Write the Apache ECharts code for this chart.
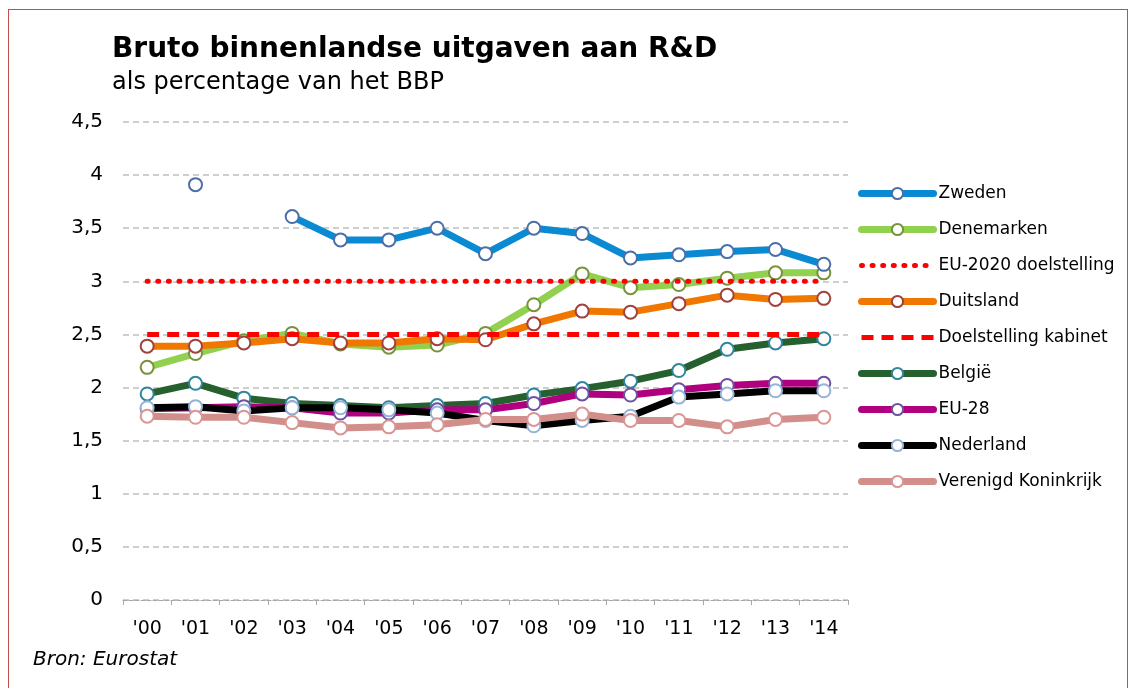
<!DOCTYPE html>
<html>
<head>
<meta charset="utf-8">
<script src="https://cdn.jsdelivr.net/npm/echarts@6/dist/echarts.min.js"></script>
<style>
html,body{margin:0;padding:0;background:#fff;}
#frame{position:absolute;left:8px;top:9px;width:1120px;height:700px;border:1px solid #c0504d;box-sizing:border-box;}
#chart{position:absolute;left:0;top:0;width:1133px;height:688px;}
</style>
</head>
<body>
<div id="frame"></div>
<div id="chart"></div>
<script>
const years = ["'00","'01","'02","'03","'04","'05","'06","'07","'08","'09","'10","'11","'12","'13","'14"];
const zweden = [null, 3.91, null, 3.61, 3.39, 3.39, 3.50, 3.26, 3.50, 3.45, 3.22, 3.25, 3.28, 3.30, 3.16];
const denemarken = [2.19, 2.32, 2.44, 2.51, 2.41, 2.38, 2.40, 2.51, 2.78, 3.07, 2.94, 2.97, 3.03, 3.08, 3.08];
const eu2020 = [3, 3, 3, 3, 3, 3, 3, 3, 3, 3, 3, 3, 3, 3, 3];
const duitsland = [2.39, 2.39, 2.42, 2.46, 2.42, 2.42, 2.46, 2.45, 2.60, 2.72, 2.71, 2.79, 2.87, 2.83, 2.84];
const kabinet = [2.5, 2.5, 2.5, 2.5, 2.5, 2.5, 2.5, 2.5, 2.5, 2.5, 2.5, 2.5, 2.5, 2.5, 2.5];
const belgie = [1.94, 2.04, 1.90, 1.85, 1.83, 1.81, 1.83, 1.85, 1.93, 1.99, 2.06, 2.16, 2.36, 2.42, 2.46];
const eu28 = [1.80, 1.81, 1.82, 1.81, 1.76, 1.76, 1.79, 1.79, 1.85, 1.94, 1.93, 1.98, 2.02, 2.04, 2.04];
const nederland = [1.81, 1.82, 1.78, 1.81, 1.81, 1.79, 1.76, 1.69, 1.64, 1.69, 1.73, 1.91, 1.94, 1.97, 1.97];
const vk = [1.73, 1.72, 1.72, 1.67, 1.62, 1.63, 1.65, 1.70, 1.70, 1.75, 1.69, 1.69, 1.63, 1.70, 1.72];
const yTicks = ['0','0,5','1','1,5','2','2,5','3','3,5','4','4,5'];

const font = 'DejaVu Sans';
function countrySeries(name, data, lineColor, markerColor, z) {
  return {
    name: name, type: 'line', data: data, z: z,
    symbol: 'circle', symbolSize: 13, showSymbol: true,
    connectNulls: false,
    lineStyle: { color: lineColor, width: 7 },
    itemStyle: { color: '#ffffff', borderColor: markerColor, borderWidth: 2 },
    emphasis: { disabled: true }
  };
}
function targetSeries(name, data, dash, width, cap, z) {
  return {
    name: name, type: 'line', data: data, z: z, symbol: 'none',
    lineStyle: { color: '#ff0000', width: width, type: dash, cap: cap },
    itemStyle: { color: '#ff0000' },
    emphasis: { disabled: true }
  };
}
const countryLegend = n => ({ name: n, lineStyle: { width: 7, cap: 'round' } });
const targetLegend = (n, w) => ({ name: n, lineStyle: { width: w }, itemStyle: { opacity: 0 } });

const chart = echarts.init(document.getElementById('chart'));
chart.setOption({
  animation: false,
  backgroundColor: 'transparent',
  title: [
    { text: 'Bruto binnenlandse uitgaven aan R&D', left: 107, top: 31,
      textStyle: { fontFamily: font, fontSize: 28, fontWeight: 'bold', color: '#000' } },
    { text: 'als percentage van het BBP', left: 107, top: 66,
      textStyle: { fontFamily: font, fontSize: 24, fontWeight: 'normal', color: '#000' } },
    { text: 'Bron: Eurostat', left: 28, top: 645,
      textStyle: { fontFamily: font, fontSize: 20, fontStyle: 'italic', fontWeight: 'normal', color: '#000' } }
  ],
  grid: { left: 123, right: 285, top: 122, bottom: 88 },
  legend: {
    orient: 'vertical', left: 853, top: 180,
    itemWidth: 72, itemHeight: 14, itemGap: 19,
    textStyle: { fontFamily: font, fontSize: 17, color: '#000' },
    data: [countryLegend('Zweden'), countryLegend('Denemarken'), targetLegend('EU-2020 doelstelling', 5),
      countryLegend('Duitsland'), targetLegend('Doelstelling kabinet', 5), countryLegend('België'),
      countryLegend('EU-28'), countryLegend('Nederland'), countryLegend('Verenigd Koninkrijk')]
  },
  xAxis: {
    type: 'category', data: years, boundaryGap: true,
    axisLine: { show: true, lineStyle: { color: '#a6a6a6', type: 'dashed', width: 1 } },
    axisTick: { show: true, length: 5, lineStyle: { color: '#a6a6a6' } },
    axisLabel: { fontFamily: font, fontSize: 19, color: '#000', margin: 20 }
  },
  yAxis: {
    type: 'value', min: 0, max: 4.5, interval: 0.5,
    axisLine: { show: false }, axisTick: { show: false },
    axisLabel: { fontFamily: font, fontSize: 20, color: '#000', margin: 20,
      formatter: function (v) { return yTicks[Math.round(v * 2)]; } },
    splitLine: { show: true, lineStyle: { color: '#bfbfbf', type: [6, 4], width: 1.5 } }
  },
  series: [
    countrySeries('Zweden', zweden, '#0a8ad2', '#4a6fa8', 10),
    countrySeries('Denemarken', denemarken, '#92d050', '#77933c', 3),
    targetSeries('EU-2020 doelstelling', eu2020, [1, 9.6], 5, 'round', 12),
    countrySeries('Duitsland', duitsland, '#f07800', '#a0413c', 4),
    targetSeries('Doelstelling kabinet', kabinet, [12, 8], 5, 'butt', 12),
    countrySeries('België', belgie, '#27602f', '#31859c', 5),
    countrySeries('EU-28', eu28, '#b0007f', '#7050a0', 6),
    countrySeries('Nederland', nederland, '#000000', '#95b3d7', 7),
    countrySeries('Verenigd Koninkrijk', vk, '#d18e8b', '#d99694', 8)
  ]
});
</script>
</body>
</html>
